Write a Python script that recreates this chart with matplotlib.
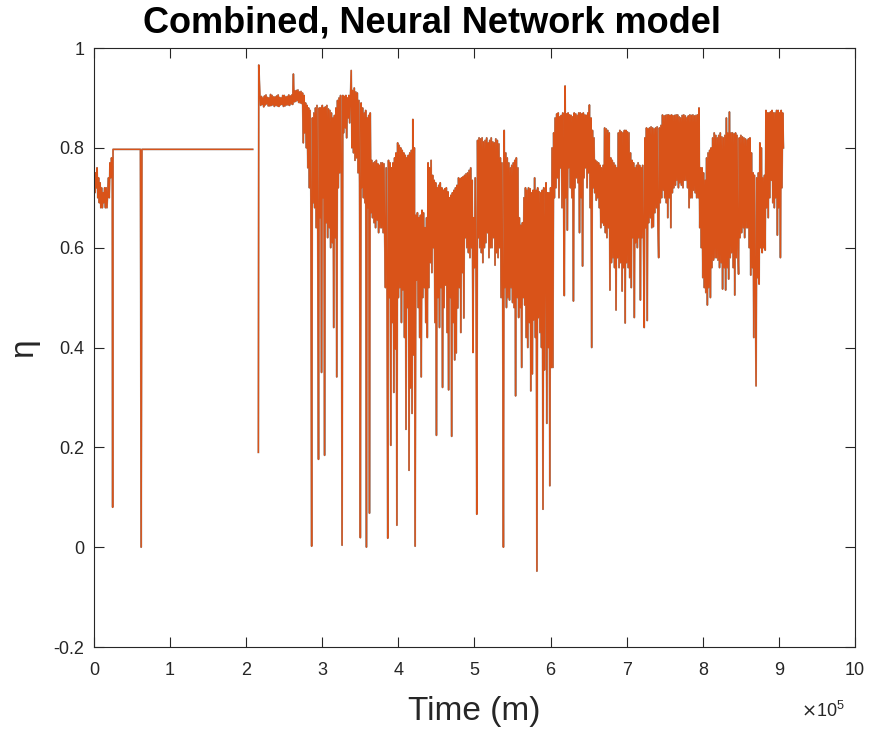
import numpy as np
import matplotlib.pyplot as plt

plt.rcParams['font.family'] = ['Liberation Sans', 'DejaVu Sans']

# time in units of 1e5 m
# start-up section, sampled every 0.01
early_t = [0.00, 0.01, 0.02, 0.03, 0.04, 0.05, 0.06, 0.07, 0.08, 0.09,
           0.10, 0.11, 0.12, 0.13, 0.14, 0.15, 0.16, 0.17, 0.18, 0.19,
           0.20, 0.21, 0.22, 0.23, 0.24, 0.245, 0.25]
early_eta = [0.74, 0.71, 0.75, 0.72, 0.76, 0.70, 0.74, 0.69, 0.73, 0.68,
             0.72, 0.68, 0.71, 0.69, 0.72, 0.68, 0.72, 0.68, 0.71, 0.74,
             0.70, 0.77, 0.74, 0.78, 0.76, 0.08, 0.797]

# flat hold section, then a gap before the main run
hold_t = [0.61, 0.62, 0.63, 2.085, 2.10, 2.16, 2.165]
hold_eta = [0.797, 0.0, 0.797, 0.797, np.nan, 0.19, 0.966]

# main run, sampled every 0.01 from 2.18 (one row = 0.2)
main_t0 = 2.18
main_dt = 0.01
main_eta = [
    0.905, 0.885, 0.903, 0.887, 0.900, 0.882, 0.904, 0.886, 0.906, 0.888,
    0.901, 0.884, 0.900, 0.884, 0.907, 0.885, 0.905, 0.886, 0.902, 0.883,   # 2.18
    0.902, 0.885, 0.904, 0.884, 0.906, 0.883, 0.901, 0.886, 0.900, 0.887,
    0.905, 0.883, 0.905, 0.884, 0.902, 0.886, 0.903, 0.886, 0.906, 0.885,   # 2.38
    0.904, 0.888, 0.906, 0.887, 0.948, 0.892, 0.914, 0.893, 0.915, 0.895,
    0.916, 0.891, 0.912, 0.890, 0.913, 0.889, 0.910, 0.810, 0.905, 0.830,   # 2.58
    0.890, 0.800, 0.885, 0.760, 0.880, 0.720, 0.875, 0.700, 0.002, 0.860,
    0.690, 0.870, 0.680, 0.880, 0.640, 0.885, 0.650, 0.176, 0.880, 0.660,   # 2.78
    0.880, 0.350, 0.885, 0.700, 0.880, 0.184, 0.882, 0.650, 0.885, 0.620,
    0.878, 0.640, 0.875, 0.600, 0.870, 0.610, 0.860, 0.440, 0.865, 0.620,   # 2.98
    0.880, 0.341, 0.895, 0.720, 0.900, 0.750, 0.905, 0.780, 0.004, 0.905,
    0.830, 0.903, 0.840, 0.905, 0.820, 0.900, 0.860, 0.905, 0.850, 0.902,   # 3.18
    0.955, 0.800, 0.915, 0.790, 0.920, 0.775, 0.912, 0.780, 0.910, 0.750,
    0.895, 0.730, 0.019, 0.890, 0.720, 0.880, 0.700, 0.870, 0.690, 0.875,   # 3.38
    0.000, 0.860, 0.680, 0.865, 0.068, 0.870, 0.670, 0.775, 0.660, 0.770,
    0.650, 0.772, 0.640, 0.775, 0.655, 0.768, 0.630, 0.765, 0.640, 0.770,   # 3.58
    0.640, 0.770, 0.630, 0.768, 0.620, 0.520, 0.760, 0.560, 0.018, 0.775,
    0.500, 0.770, 0.204, 0.760, 0.450, 0.770, 0.310, 0.780, 0.397, 0.790,   # 3.78
    0.044, 0.810, 0.500, 0.805, 0.520, 0.800, 0.450, 0.795, 0.515, 0.790,
    0.420, 0.785, 0.236, 0.780, 0.480, 0.785, 0.154, 0.790, 0.319, 0.795,   # 3.98
    0.268, 0.857, 0.385, 0.800, 0.002, 0.665, 0.535, 0.670, 0.480, 0.660,
    0.420, 0.665, 0.341, 0.675, 0.500, 0.670, 0.520, 0.640, 0.450, 0.660,   # 4.18
    0.420, 0.770, 0.520, 0.760, 0.570, 0.775, 0.550, 0.745, 0.600, 0.735,
    0.450, 0.730, 0.224, 0.720, 0.500, 0.725, 0.440, 0.730, 0.520, 0.720,   # 4.38
    0.320, 0.715, 0.480, 0.718, 0.525, 0.720, 0.430, 0.712, 0.315, 0.700,
    0.500, 0.705, 0.222, 0.710, 0.450, 0.715, 0.375, 0.720, 0.389, 0.725,   # 4.58
    0.479, 0.740, 0.520, 0.738, 0.430, 0.740, 0.550, 0.742, 0.459, 0.745,
    0.620, 0.748, 0.600, 0.750, 0.590, 0.755, 0.580, 0.760, 0.600, 0.735,   # 4.78
    0.390, 0.660, 0.560, 0.740, 0.560, 0.066, 0.815, 0.620, 0.820, 0.600,
    0.818, 0.590, 0.820, 0.570, 0.812, 0.600, 0.815, 0.610, 0.820, 0.630,   # 4.98
    0.810, 0.580, 0.815, 0.600, 0.820, 0.600, 0.812, 0.620, 0.810, 0.565,
    0.818, 0.590, 0.815, 0.580, 0.808, 0.600, 0.780, 0.500, 0.770, 0.520,   # 5.18
    0.000, 0.835, 0.520, 0.790, 0.480, 0.780, 0.500, 0.770, 0.495, 0.760,
    0.520, 0.765, 0.490, 0.770, 0.480, 0.775, 0.303, 0.780, 0.500, 0.760,   # 5.38
    0.460, 0.660, 0.480, 0.645, 0.360, 0.650, 0.500, 0.700, 0.485, 0.720,
    0.420, 0.715, 0.400, 0.720, 0.450, 0.718, 0.313, 0.710, 0.347, 0.715,   # 5.58
    0.455, 0.740, 0.420, 0.715, -0.048, 0.720, 0.460, 0.712, 0.430, 0.710,
    0.400, 0.715, 0.076, 0.720, 0.355, 0.600, 0.730, 0.248, 0.710, 0.400,   # 5.78
    0.710, 0.123, 0.720, 0.360, 0.800, 0.360, 0.830, 0.700, 0.860, 0.720,
    0.868, 0.740, 0.870, 0.700, 0.862, 0.760, 0.865, 0.680, 0.870, 0.720,   # 5.98
    0.504, 0.924, 0.700, 0.868, 0.635, 0.870, 0.760, 0.866, 0.720, 0.865,
    0.700, 0.862, 0.493, 0.870, 0.720, 0.868, 0.740, 0.865, 0.730, 0.870,   # 6.18
    0.630, 0.870, 0.700, 0.868, 0.563, 0.870, 0.740, 0.866, 0.760, 0.865,
    0.720, 0.870, 0.750, 0.886, 0.680, 0.860, 0.400, 0.835, 0.720, 0.820,   # 6.38
    0.710, 0.775, 0.695, 0.772, 0.700, 0.770, 0.680, 0.765, 0.640, 0.760,
    0.650, 0.765, 0.645, 0.840, 0.630, 0.838, 0.620, 0.835, 0.640, 0.830,   # 6.58
    0.515, 0.780, 0.570, 0.775, 0.580, 0.770, 0.560, 0.765, 0.475, 0.760,
    0.580, 0.830, 0.560, 0.835, 0.570, 0.832, 0.513, 0.830, 0.560, 0.835,   # 6.78
    0.449, 0.835, 0.570, 0.832, 0.560, 0.830, 0.540, 0.790, 0.520, 0.775,
    0.620, 0.770, 0.460, 0.760, 0.610, 0.765, 0.600, 0.770, 0.620, 0.765,   # 6.98
    0.495, 0.760, 0.620, 0.765, 0.630, 0.440, 0.820, 0.640, 0.840, 0.454,
    0.838, 0.650, 0.840, 0.660, 0.842, 0.640, 0.840, 0.642, 0.838, 0.670,   # 7.18
    0.840, 0.680, 0.842, 0.650, 0.580, 0.840, 0.690, 0.845, 0.700, 0.866,
    0.715, 0.864, 0.700, 0.865, 0.690, 0.866, 0.660, 0.866, 0.700, 0.865,   # 7.38
    0.640, 0.866, 0.710, 0.864, 0.720, 0.865, 0.725, 0.866, 0.735, 0.866,
    0.720, 0.862, 0.730, 0.860, 0.725, 0.865, 0.720, 0.866, 0.735, 0.864,   # 7.58
    0.735, 0.860, 0.720, 0.864, 0.680, 0.866, 0.700, 0.865, 0.700, 0.866,
    0.715, 0.864, 0.710, 0.865, 0.700, 0.866, 0.700, 0.880, 0.640, 0.760,   # 7.78
    0.600, 0.760, 0.540, 0.750, 0.520, 0.735, 0.510, 0.780, 0.485, 0.790,
    0.520, 0.795, 0.500, 0.800, 0.560, 0.820, 0.575, 0.830, 0.580, 0.825,   # 7.98
    0.580, 0.820, 0.575, 0.825, 0.560, 0.830, 0.570, 0.822, 0.517, 0.820,
    0.560, 0.825, 0.515, 0.860, 0.560, 0.830, 0.537, 0.872, 0.580, 0.830,   # 8.18
    0.590, 0.830, 0.560, 0.828, 0.505, 0.830, 0.580, 0.825, 0.600, 0.547,
    0.820, 0.620, 0.825, 0.630, 0.822, 0.640, 0.820, 0.620, 0.818, 0.640,   # 8.38
    0.815, 0.640, 0.818, 0.600, 0.820, 0.545, 0.790, 0.560, 0.750, 0.420,
    0.745, 0.530, 0.323, 0.740, 0.540, 0.750, 0.527, 0.810, 0.600, 0.800,   # 8.58
    0.590, 0.740, 0.600, 0.745, 0.595, 0.875, 0.680, 0.870, 0.660, 0.870,
    0.700, 0.872, 0.735, 0.875, 0.690, 0.870, 0.680, 0.870, 0.700, 0.875,   # 8.78
    0.625, 0.875, 0.680, 0.870, 0.580, 0.875, 0.720, 0.870, 0.800,          # 8.98
]

main_t = main_t0 + main_dt * np.arange(len(main_eta))
t = np.concatenate([early_t, hold_t, main_t]) * 1e5
eta = np.concatenate([early_eta, hold_eta, main_eta])

fig = plt.figure(figsize=(8.72, 7.31), dpi=100)
ax = fig.add_axes([0.1078, 0.1149, 0.8727, 0.8194])

# faint grey copy underneath, then the orange trace
ax.plot(t, eta, color='#9a9a9a', linewidth=1.3)
ax.plot(t, eta, color='#D95319', linewidth=1.0)

ax.set_xlim(0, 1e6)
ax.set_ylim(-0.2, 1.0)
ax.set_xticks(np.arange(0, 11) * 1e5)
ax.set_xticklabels([str(i) for i in range(11)])
ax.set_yticks(np.arange(-0.2, 1.01, 0.2))
ax.set_yticklabels(['-0.2', '0', '0.2', '0.4', '0.6', '0.8', '1'])

ax.tick_params(axis='both', direction='in', length=7, width=0.8,
               colors='#262626', labelsize=13, top=True, right=True)
ax.tick_params(axis='x', pad=11)
ax.tick_params(axis='y', pad=7)
for sp in ax.spines.values():
    sp.set_color('#262626')
    sp.set_linewidth(0.8)

ax.set_xlabel('Time (m)', fontsize=24, color='#262626', labelpad=12)
ax.set_ylabel('η', fontsize=24, color='#262626', labelpad=10)
ax.set_title('Combined, Neural Network model', fontsize=26, fontweight='bold',
             x=0.444, pad=11)
fig.text(0.969, 0.013, r'$\times\mathregular{10^{5}}$', fontsize=13,
         ha='right', va='bottom', color='#262626')

fig.savefig('out.png', dpi=100)
